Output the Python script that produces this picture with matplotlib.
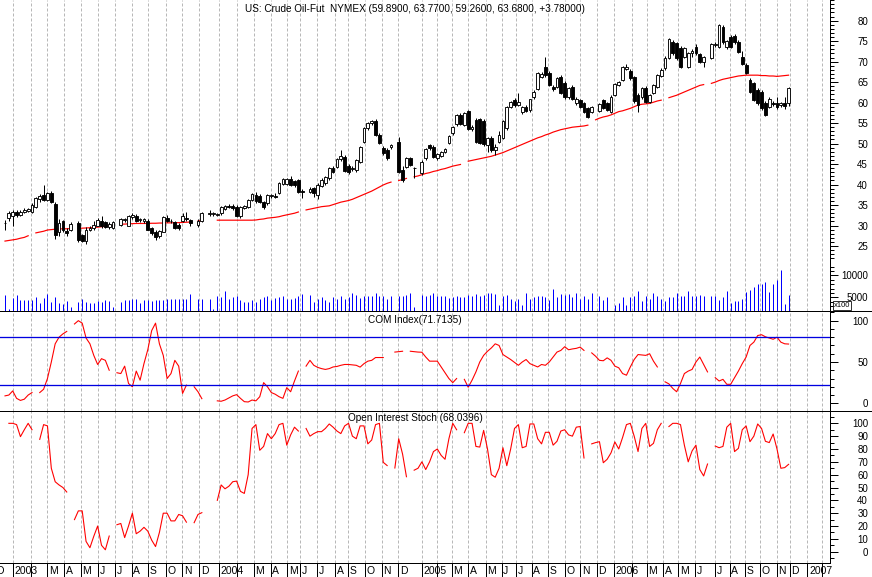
import numpy as np
import matplotlib
matplotlib.use("Agg")
import matplotlib.pyplot as plt
from matplotlib.lines import Line2D
from matplotlib.transforms import offset_copy

plt.rcParams["font.family"] = ["Liberation Sans", "DejaVu Sans"]

nan = np.nan

# weekly bars, one slot per week (Dec 2002 .. Dec 2006)
opens = [
    30.6, 31.8, 32.2, 33.4, 32.6, 33.3, 33.6, 33.2, 34.6, 36.5,
    37.5, 36.3, 38.0, 35.2, 28.4, 31.0, 28.7, 29.0, nan, 30.7,
    27.7, 26.2, 29.0, 29.4, 30.0, 31.0, 30.8, 29.6, 29.5, nan,
    30.1, 31.3, 30.0, 32.0, 32.3, 31.3, 31.0, 31.0, 29.3, 28.5,
    27.4, 28.5, 31.9, 31.1, 30.9, 30.2, 31.2, 31.8, 31.3, nan,
    30.1, 31.2, nan, 32.7, 32.8, 32.6, 33.0, 34.0, 34.7, 34.8,
    34.6, 32.3, 34.3, 34.6, 36.3, 37.4, 37.2, 35.8, 35.4, 37.2,
    37.3, 37.9, 40.1, 40.2, 41.3, 40.8, 41.0, 38.4, nan, 38.1,
    39.1, 37.5, 39.7, 40.3, 41.5, 44.0, 44.4, 46.2, 46.8, 44.5,
    43.8, 43.6, 45.6, 50.5, 53.7, 55.0, 55.6, 52.1, 48.8, 48.4,
    49.1, nan, 50.5, 43.5, 44.4, 46.4, 44.0, nan, 42.7, 46.4,
    49.6, 49.2, 46.4, 47.0, 48.0, 50.1, 52.5, 54.8, 57.0, 54.5,
    58.0, 53.5, 55.8, 55.9, 55.5, 49.7, 51.3, 48.4, 50.5, 51.3,
    53.7, 59.0, 60.6, 59.5, 57.8, 58.9, 58.2, 61.3, 63.3, 66.2,
    68.8, 67.3, 63.9, 63.9, 66.3, 64.7, 61.3, 63.9, 59.8, 60.6,
    59.8, 58.6, 57.8, nan, 58.0, 60.6, 59.8, 57.8, 61.9, 64.3,
    65.5, 68.3, 67.7, 66.3, 61.9, 61.4, 63.5, 60.2, 62.3, 63.9,
    66.5, 68.4, 71.0, 74.7, 74.5, 73.3, 71.2, 68.8, 72.0, 73.6,
    71.8, 69.8, nan, 71.0, 74.0, 73.6, 78.5, 73.6, 75.9, 76.3,
    74.9, 71.2, 69.2, 65.5, 64.7, 63.1, 62.7, 60.0, 59.0, 59.8,
    59.8, 59.5, 59.9, 59.89,
]
highs = [
    31.4, 33.5, 33.8, 33.9, 33.8, 34.3, 34.2, 35.4, 37.0, 37.8,
    39.9, 38.3, 38.4, 35.8, 31.5, 31.4, 29.3, 30.8, nan, 31.0,
    28.0, 29.6, 30.0, 31.0, 31.8, 32.3, 31.2, 30.8, 31.2, nan,
    31.8, 31.9, 32.6, 33.0, 32.8, 31.9, 31.9, 31.5, 29.6, 28.8,
    28.9, 32.3, 32.5, 31.5, 31.2, 30.5, 33.0, 33.4, 31.6, nan,
    31.6, 33.4, nan, 33.9, 33.3, 33.0, 34.8, 35.0, 35.3, 35.2,
    35.0, 34.7, 35.0, 36.5, 38.0, 38.2, 37.6, 36.0, 37.6, 37.8,
    37.9, 40.5, 41.5, 41.6, 42.0, 41.2, 41.4, 38.8, nan, 39.4,
    39.4, 40.3, 41.5, 42.0, 44.3, 44.5, 46.5, 48.4, 47.3, 45.0,
    44.5, 46.3, 49.5, 54.0, 55.3, 55.8, 56.0, 52.6, 49.4, 49.0,
    50.0, nan, 51.5, 44.5, 46.8, 46.8, 44.2, nan, 45.9, 48.8,
    50.0, 49.6, 47.6, 48.2, 48.8, 52.0, 54.3, 57.2, 57.5, 57.8,
    58.3, 54.5, 56.2, 56.3, 56.0, 51.6, 51.8, 50.0, 53.0, 55.8,
    59.2, 60.5, 61.2, 62.4, 59.2, 59.4, 61.0, 63.0, 67.5, 67.4,
    71.2, 67.8, 64.3, 66.2, 66.8, 65.2, 63.8, 64.2, 61.4, 61.0,
    60.2, 59.0, 59.2, nan, 60.0, 61.0, 60.2, 61.8, 64.8, 65.3,
    69.0, 69.5, 68.2, 66.6, 62.3, 63.8, 64.0, 62.0, 64.5, 66.9,
    68.4, 71.3, 75.8, 75.3, 74.9, 73.7, 73.6, 72.3, 73.0, 74.2,
    72.2, 71.5, nan, 74.5, 74.8, 79.3, 79.0, 75.4, 76.6, 76.8,
    75.3, 72.5, 69.6, 66.0, 65.1, 63.5, 63.2, 60.5, 61.3, 60.5,
    61.4, 60.2, 61.4, 63.77,
]
lows = [
    29.0, 31.2, 30.0, 32.0, 32.2, 33.0, 33.2, 33.0, 34.3, 35.8,
    35.9, 36.0, 35.4, 26.8, 27.5, 28.5, 27.5, 28.6, nan, 25.9,
    25.9, 25.6, 28.6, 29.0, 29.8, 29.5, 29.3, 29.2, 29.2, nan,
    29.8, 30.9, 29.8, 31.5, 30.8, 30.8, 30.7, 28.8, 27.8, 26.4,
    27.0, 28.3, 30.8, 30.6, 29.2, 29.0, 30.8, 31.0, 29.8, nan,
    29.6, 30.8, nan, 32.2, 32.3, 32.3, 32.6, 33.8, 34.2, 33.7,
    32.0, 31.8, 34.0, 34.3, 36.0, 35.6, 35.5, 34.0, 35.0, 36.8,
    36.8, 37.6, 39.8, 39.9, 39.6, 39.5, 37.9, 36.7, nan, 37.9,
    37.0, 36.5, 39.5, 40.0, 41.2, 42.8, 44.0, 45.8, 43.0, 42.5,
    43.2, 43.0, 45.2, 50.2, 53.4, 54.6, 51.8, 49.8, 47.2, 46.0,
    48.7, nan, 42.7, 40.6, 44.0, 44.5, 41.5, nan, 42.3, 46.0,
    48.5, 46.6, 46.0, 46.7, 47.8, 49.8, 52.2, 54.4, 54.5, 54.2,
    53.2, 53.0, 50.2, 49.8, 49.5, 48.0, 48.0, 47.2, 50.2, 51.0,
    53.4, 58.7, 59.0, 59.2, 57.3, 57.6, 57.8, 61.0, 63.0, 65.9,
    66.3, 64.0, 62.8, 63.5, 62.0, 61.0, 61.0, 60.6, 59.5, 58.7,
    57.5, 56.3, 57.4, nan, 57.6, 58.4, 58.0, 57.4, 61.6, 64.0,
    65.2, 68.0, 65.6, 60.0, 57.8, 61.0, 60.0, 59.8, 62.0, 63.5,
    66.2, 68.0, 70.6, 71.6, 70.5, 68.5, 70.9, 68.5, 71.2, 71.6,
    69.7, 68.8, nan, 70.7, 73.6, 73.3, 74.4, 73.2, 73.3, 74.4,
    72.1, 69.1, 66.9, 62.4, 60.3, 59.4, 58.3, 56.7, 58.6, 59.2,
    58.4, 59.0, 58.5, 59.26,
]
closes = [
    30.5, 33.0, 33.4, 32.5, 33.3, 33.8, 34.0, 35.0, 36.7, 37.3,
    36.2, 38.0, 35.7, 27.6, 30.5, 28.9, 28.2, 30.4, nan, 26.4,
    26.3, 29.0, 29.5, 30.2, 31.3, 29.8, 29.6, 30.4, 30.8, nan,
    31.5, 31.5, 32.2, 32.6, 31.2, 31.5, 31.6, 29.0, 28.2, 27.3,
    28.6, 32.0, 31.1, 31.0, 29.5, 29.4, 32.3, 31.6, 30.6, nan,
    31.2, 33.1, nan, 33.1, 33.0, 32.7, 34.6, 34.7, 34.6, 34.2,
    32.3, 34.5, 34.8, 36.2, 37.7, 35.9, 35.8, 34.5, 37.4, 37.4,
    37.0, 40.3, 41.3, 41.3, 39.9, 40.0, 38.2, 38.3, nan, 39.0,
    37.9, 39.9, 41.1, 41.8, 44.0, 43.1, 46.2, 47.0, 43.3, 43.1,
    44.0, 46.0, 49.2, 53.7, 55.1, 55.6, 52.1, 50.1, 47.6, 46.4,
    49.7, nan, 43.1, 41.2, 46.4, 44.8, 44.1, nan, 45.6, 48.6,
    48.8, 46.8, 47.4, 47.9, 48.6, 51.8, 54.0, 57.0, 54.8, 57.5,
    53.5, 54.0, 50.5, 50.1, 49.9, 51.3, 48.4, 49.2, 52.1, 55.4,
    58.9, 60.2, 59.4, 60.1, 58.9, 57.9, 60.8, 62.7, 67.2, 67.0,
    66.7, 64.3, 63.3, 65.9, 62.3, 61.4, 63.5, 61.0, 61.0, 59.0,
    57.8, 56.6, 58.9, nan, 59.7, 58.6, 58.2, 61.4, 64.5, 65.1,
    68.8, 68.8, 65.9, 60.3, 59.4, 63.5, 60.2, 61.8, 64.3, 66.7,
    68.0, 71.0, 75.5, 72.0, 70.8, 68.8, 73.3, 72.0, 72.6, 72.0,
    70.0, 71.2, nan, 74.2, 74.3, 78.9, 74.7, 75.0, 73.6, 74.7,
    72.4, 69.4, 67.2, 62.7, 60.6, 59.8, 58.6, 57.0, 61.0, 59.6,
    59.0, 59.8, 59.1, 63.68,
]
moving_avg = [
    26.2, 26.35, 26.5, 26.65, 26.9, 27.1, 27.5, nan, 28.2, 28.4,
    28.6, 28.9, 29.0, 29.1, 29.15, 29.2, 29.2, 29.25, nan, 29.3,
    29.35, 29.4, 29.45, 29.5, 29.6, 29.7, 29.8, 29.9, 30.0, nan,
    30.3, 30.35, 30.4, 30.45, 30.5, 30.5, 30.5, 30.5, 30.55, 30.55,
    30.6, 30.6, 30.65, 30.65, 30.7, 30.7, 30.75, 30.8, 30.85, nan,
    31.1, 31.2, nan, 31.3, nan, 31.3, 31.3, 31.3, 31.3, 31.3,
    31.3, 31.3, 31.3, 31.3, 31.3, 31.35, 31.5, 31.6, 31.8, 31.9,
    32.0, 32.15, 32.4, 32.6, 32.8, 33.0, 33.3, nan, 33.8, 34.0,
    34.2, 34.4, 34.6, 34.7, 34.8, 35.1, 35.4, 35.7, 35.9, 36.1,
    36.4, 36.8, 37.2, 37.6, 38.0, 38.4, 38.9, 39.4, 39.9, 40.3,
    40.6, nan, 41.0, 41.2, 41.5, nan, 41.9, 42.1, 42.4, 42.7,
    42.9, 43.2, 43.4, 43.7, 43.9, 44.2, 44.5, 44.7, 44.9, nan,
    45.7, 45.9, 46.1, 46.3, 46.5, 46.7, 46.9, 47.2, 47.5, 47.8,
    48.2, 48.6, 49.0, 49.4, 49.8, 50.2, 50.6, 51.0, 51.4, 51.7,
    52.1, 52.4, 52.8, 53.1, 53.4, 53.6, 53.8, 54.0, 54.1, 54.2,
    54.3, 54.5, nan, 55.8, 56.2, 56.5, 56.7, 57.0, 57.4, 57.8,
    58.0, 58.3, 58.6, 59.0, 59.4, 59.6, 59.7, 59.8, 60.1, 60.4,
    60.6, nan, 61.2, 61.5, 61.8, 62.2, 62.6, 63.0, 63.4, 63.8,
    64.2, 64.4, nan, 64.7, 65.0, 65.4, 65.7, 65.9, 66.1, 66.3,
    66.5, 66.6, 66.7, 66.7, 66.7, 66.7, 66.6, 66.6, 66.5, 66.5,
    66.4, 66.5, 66.6, 66.7,
]
volume = [
    5500, 2300, 4800, 5500, 4400, 4300, 4400, 4400, 5100, 3600,
    4800, 5700, 4000, 5100, 3800, 3500, 4200, 2900, nan, 4000,
    4500, 4000, 3700, 3600, 4200, 4000, 4400, 4100, 2900, nan,
    4000, 4300, 4400, 4500, 4600, 3700, 4400, 4400, 4200, 4300,
    4300, 4400, 4600, 4500, 4600, 4500, 4600, 4500, 5700, nan,
    4600, 4600, nan, 4700, 2300, 5200, 5000, 6400, 4700, 5100,
    5200, 4400, 4000, 4000, 4400, 4000, 4700, 5100, 5200, 4400,
    4800, 5100, 5200, 4700, 4700, 4800, 5300, 5800, nan, 5600,
    4000, 4700, 5000, 4400, 4000, 5100, 4700, 5200, 4700, 5000,
    5900, 5600, 4800, 5200, 5200, 5300, 6000, 5200, 5200, 4700,
    5300, nan, 5200, 5200, 5600, 5900, 2800, nan, 5500, 5200,
    5500, 5900, 5200, 5200, 5400, 4800, 5100, 5400, 5000, 5100,
    5600, 5300, 5700, 5300, 5600, 6000, 6000, 5700, 3300, 5300,
    5600, 4700, 4200, 4600, 3300, 5900, 4500, 5000, 5200, 5200,
    5000, 4400, 6800, 5100, 5800, 5600, 5800, 5100, 5900, 4700,
    5400, 4500, 6000, nan, 5300, 4400, 5000, 1800, 3300, 3800,
    5000, 3300, 5000, 5300, 6400, 4100, 5200, 4700, 5900, 5200,
    4700, 4200, 5000, 5000, 5900, 5200, 5400, 6500, 5200, 5300,
    5500, 5200, nan, 5200, 5200, 4300, 5000, 6400, 3800, 4200,
    4200, 4600, 6100, 6700, 7400, 8000, 8100, 8500, 6200, 8000,
    8900, 11200, 3400, 5500,
]
com_index = [
    9, 10, 15, 6, 3.5, 5, 10, 13, nan, 13,
    17, 30, 50, 72, 80, 84, 87, nan, 96, 100,
    97, 79, 72, 58, 47, 54, 52, 40, nan, 37,
    36, 45, 24, 20, 39, 28, 48, 65, 88, 97,
    72, 58, 30, 36, 52, 45, 12, 22, nan, 20,
    14, 5.6, nan, nan, nan, 3, 2.5, 4, 6.5, 9,
    10.5, 6, 2, 1.6, 4, 3, 8, 25, 20, 13,
    11, 8, 6, 19, 14, 27, 39, nan, 45, 52,
    46, 43.5, 42, 41, 42, 44, 44.6, 46, 47, 47,
    46.5, 46, 43.8, 48, 51, 52, 55.4, 55.4, 55.4, nan,
    nan, 62, 62.5, 63, nan, 63, 62.5, 62, 61.8, 56,
    51, 51, 51, 44, 37, 30, 25, 30, nan, 29,
    19.5, 28, 38, 50, 58, 63, 67, 72, 70, 59,
    56, 53, 49.5, 46, 50, 53, 48, 46, 44, 47,
    46, 50, 56, 62, 64, 68.5, 64.8, 65.8, 66.5, 68,
    64, nan, 61, 57, 52, 51.5, 55, 52, 45, 43,
    36, 34, 44, 53, 59, 58.5, 58, 60, 51, 44,
    nan, 26, 23.5, 18, 14, 24, 36, 39, 41, 50,
    56, 47, 38, nan, 31, 27, 29, 23, 23, 31,
    39, 48, 56, 70, 74, 82, 83, 80.5, 79, 77.5,
    80, 74, 72, 71.71,
]
oi_stoch = [
    nan, 100, 100, 99, 89.6, 95, 100, 95, nan, 87.5,
    99, 98, 65, 54.5, 52, 50, 46.5, nan, 25, 31.8,
    31.8, 8, 3.1, 12, 20, 5, 1.5, 12.2, nan, 21,
    22, 11, 20, 30, 14, 16, 19, 16, 9, 4,
    15, 30, 30, 24, 24, 29, 28, 23, nan, 22.6,
    29, 30.4, nan, nan, nan, 40, 52, 49, 51, 54.5,
    55, 47, 45.4, 60, 96, 99, 79, 82, 92, 88,
    92, 99, 100, 83, 91, 97, 94, nan, 96, 90,
    92, 93.5, 93.5, 96, 99.5, 97, 94, 92, 98, 100,
    90, 88, 98, 98, 84, 87, 99, 100, 69.6, 67.1,
    nan, 65.2, 88, 76, 58.4, nan, 63.5, 65, 70, 64,
    70, 78, 80, 75, 72, 88, 100, 95, nan, 92.7,
    100, 100, 82, 81.5, 94.5, 80, 60, 58, 65, 81,
    67, 80, 96, 99, 81, 82, 99.5, 99.5, 88, 84,
    93, 93, 83, 86, 94, 95, 91, 90, 97, 97.5,
    73, nan, 84, 85, 85.7, 69.3, 72, 77, 85.5, 80,
    89, 99, 100, 90, 78, 96, 100, 82, 84.4, 95,
    100, nan, 97.5, 100, 100, 99, 83, 70, 78.5, 83,
    64, 59, 68.3, nan, 82.3, 81, 82, 97, 100, 78,
    80.5, 95, 98, 85.7, 90, 99.5, 96, 86, 85, 91.7,
    80, 65, 65.5, 68.04,
]

# month boundaries, in week slots
month_slots = [
    -2.7, 2.0, 6.7, 11.0, 15.3, 19.6, 24.2, 28.5, 32.8, 37.1, 41.6, 45.9, 50.3,
    55.4, 60.0, 64.5, 68.8, 73.1, 76.4, 80.8, 85.5, 88.9, 93.3, 97.6, 101.9,
    108.0, 111.8, 115.7, 120.0, 124.6, 128.7, 132.4, 136.4, 140.8, 145.1, 149.0, 153.3,
    157.8, 162.4, 166.2, 170.5, 174.4, 178.8, 184.0, 187.8, 191.7, 195.6, 199.9, 203.4,
    207.9, 211.7,
]
month_labels = [
    "D", "2003", "", "M", "A", "M", "J", "J", "A", "S", "O", "N", "D",
    "2004", "", "M", "A", "M", "J", "J", "A", "S", "O", "N", "D",
    "2005", "", "M", "A", "M", "J", "J", "A", "S", "O", "N", "D",
    "2006", "", "M", "A", "M", "J", "J", "A", "S", "O", "N", "D",
    "2007", "",
]

title = "US: Crude Oil-Fut  NYMEX (59.8900, 63.7700, 59.2600, 63.6800, +3.78000)"

n = len(closes)
for name, arr in [("opens", opens), ("highs", highs), ("lows", lows), ("ma", moving_avg),
                  ("volume", volume), ("com", com_index), ("oi", oi_stoch)]:
    assert len(arr) == n, (name, len(arr), n)

W, H = 872, 577
fig = plt.figure(figsize=(W / 100, H / 100), dpi=100)


def panel(top, bottom):
    return [0, 1 - bottom / H, 830 / W, (bottom - top) / H]


ax_p = fig.add_axes(panel(0, 311))
ax_c = fig.add_axes(panel(311, 411), sharex=ax_p)
ax_o = fig.add_axes(panel(411, 563), sharex=ax_p)
ax_v = ax_p.twinx()

x = np.arange(n)
o = np.array(opens, dtype=float)
h = np.array(highs, dtype=float)
l = np.array(lows, dtype=float)
c = np.array(closes, dtype=float)
ok = ~np.isnan(c)
up = ok & (c >= o)
dn = ok & (c < o)

red = "#ff0000"
blue = "#0000ff"
line_blue = "#0000e0"
grid_col = "#b8b8b8"
px = 0.72  # one pixel in points

# price panel
ax_p.plot(x, moving_avg, color=red, lw=1.2 * px, zorder=2)
ax_p.vlines(x[ok], l[ok], h[ok], color="black", lw=1 * px, zorder=3)
ax_p.bar(x[up], c[up] - o[up], bottom=o[up], width=0.72, facecolor="white",
         edgecolor="black", lw=0.9 * px, zorder=4)
ax_p.bar(x[dn], o[dn] - c[dn], bottom=c[dn], width=0.72, facecolor="black",
         edgecolor="black", lw=0.9 * px, zorder=4)
ax_p.set_ylim(9.13, 85.05)
ax_p.set_yticks(range(25, 81, 5))
ax_p.set_yticks(range(22, 86), minor=True)
ax_p.text(0.5, 1 - 8.5 / 311, title, transform=ax_p.transAxes, ha="center",
          va="center", fontsize=7.2)

# volume (x100)
v = np.array(volume, dtype=float)
vok = ~np.isnan(v)
ax_v.vlines(x[vok], 0, v[vok], color=blue, lw=1 * px)
ax_v.set_ylim(1886, 72576)
ax_v.set_yticks([5000, 10000])
ax_v.set_yticks(range(3000, 12001, 1000), minor=True)

# COM index
ax_c.plot(x, com_index, color=red, lw=1.1 * px)
ax_c.axhline(80, color=line_blue, lw=1.3 * px)
ax_c.axhline(22, color=line_blue, lw=1.3 * px)
ax_c.set_ylim(-9.3, 111.7)
ax_c.set_yticks([0, 50, 100])
ax_c.set_yticks(range(0, 111, 10), minor=True)
ax_c.text(0.5, 1 - 9 / 100, "COM Index(71.7135)", transform=ax_c.transAxes,
          ha="center", va="center", fontsize=7.2)

# open interest stochastic
ax_o.plot(x, oi_stoch, color=red, lw=1.1 * px)
ax_o.set_ylim(-8.8, 109.6)
ax_o.set_yticks(range(0, 101, 10))
ax_o.set_yticks(range(-5, 106, 5), minor=True)
ax_o.text(0.5, 1 - 7.3 / 152, "Open Interest Stoch (68.0396)",
          transform=ax_o.transAxes, ha="center", va="center", fontsize=7.2)

ax_p.set_xlim(-5 / 3.86, 825 / 3.86)
ax_o.set_xticks([s for s in month_slots if s > -1.2])

for ax in (ax_p, ax_v, ax_c, ax_o):
    for side in ("left", "top", "bottom"):
        ax.spines[side].set_visible(False)
    ax.spines["right"].set_linewidth(1 * px)
    ax.yaxis.tick_right()
    ax.tick_params(axis="y", which="major", length=8 * px, width=1 * px,
                   pad=21.6, labelsize=7, right=True, left=False,
                   labelright=True, labelleft=False)
    ax.tick_params(axis="y", which="minor", length=4 * px, width=1 * px,
                   right=True, left=False)
    ax.set_yticklabels([f"{int(t)}" for t in ax.get_yticks()], ha="right")
    ax.patch.set_visible(False)

ax_o.spines["bottom"].set_visible(True)
ax_o.spines["bottom"].set_linewidth(1 * px)

for ax in (ax_p, ax_c):
    ax.tick_params(axis="x", length=0, labelbottom=False)
ax_v.tick_params(axis="x", length=0, labelbottom=False)
ax_o.tick_params(axis="x", which="major", length=14 * px, width=1 * px,
                 direction="out", labelbottom=False)

for ax in (ax_p, ax_c, ax_o):
    ax.grid(axis="x", color=grid_col, lw=1 * px, ls=(0, (3, 2)))
    ax.set_axisbelow(True)

lab_tr = offset_copy(ax_o.get_xaxis_transform(), fig=fig, x=1.5, y=0, units="dots")
for s, lab in zip(month_slots, month_labels):
    if lab:
        ax_o.text(s, -8 / 152, lab, transform=lab_tr, ha="left", va="center",
                  fontsize=7.5, clip_on=False)

# panel separators run the full width
for ypix in (311, 411):
    fig.add_artist(Line2D([0, 1], [1 - ypix / H] * 2, color="black", lw=1 * px,
                          transform=fig.transFigure))

fig.text(842 / W, 1 - 305.5 / H, "x100", fontsize=5.5, ha="center", va="center",
         bbox=dict(boxstyle="square,pad=0.12", fc="white", ec="black", lw=0.8 * px))

fig.savefig("out.png", dpi=100)
